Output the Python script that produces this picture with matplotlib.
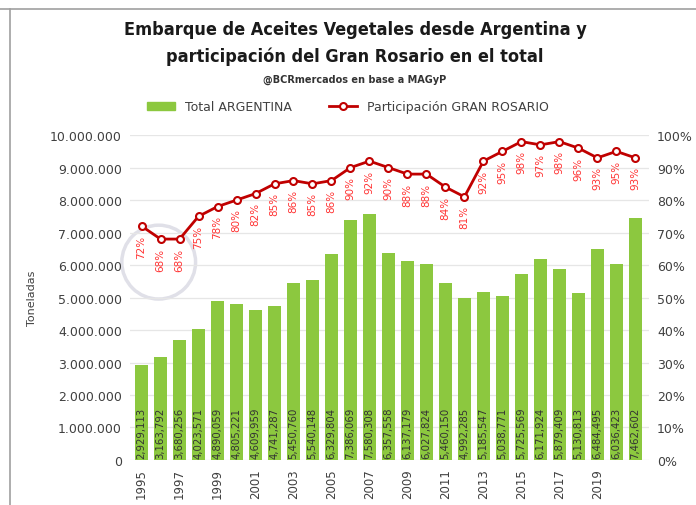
import matplotlib
matplotlib.use("Agg")
import matplotlib.pyplot as plt
from matplotlib.lines import Line2D
from matplotlib.patches import Patch, Ellipse
import numpy as np

years = [str(y) for y in range(1995, 2022)]
total_arg = [2929113, 3163792, 3680256, 4023571, 4890059, 4805221, 4609959,
             4741287, 5450760, 5540148, 6329804, 7386069, 7580308, 6357558,
             6137179, 6027824, 5460150, 4992285, 5185547, 5038771, 5725569,
             6171924, 5879409, 5130813, 6484495, 6036423, 7462602]
part_gr = [72, 68, 68, 75, 78, 80, 82, 85, 86, 85, 86, 90, 92, 90, 88, 88,
           84, 81, 92, 95, 98, 97, 98, 96, 93, 95, 93]

green = "#8CC83F"
dark_red = "#C00000"
lbl_red = "#FF3333"

fig = plt.figure(figsize=(6.96, 5.06), dpi=100)
ax = fig.add_axes([0.187, 0.089, 0.745, 0.642])
ax2 = ax.twinx()
ax.patch.set_visible(False)
ax2.patch.set_visible(False)

x = np.arange(len(years))
ax.bar(x, total_arg, width=0.68, color=green, zorder=2)
for xi, v in zip(x, total_arg):
    ax.text(xi, 70000, f"{v:,}", rotation=90, ha="center", va="bottom",
            fontsize=7.3, color="#333333", zorder=3)

ax.set_ylim(0, 10000000)
ax.set_yticks(range(0, 10000001, 1000000))
ax.set_yticklabels([f"{v:,}".replace(",", ".") for v in range(0, 10000001, 1000000)],
                   fontsize=9, color="#404040")
ax.set_xlim(-0.6, 26.7)
ax.set_xticks(x)
ax.set_xticklabels([y if i % 2 == 0 and i < 26 else "" for i, y in enumerate(years)],
                   rotation=90, fontsize=8.5, color="#404040")
ax.grid(axis="y", color="#E6E6E6", lw=0.9, zorder=0)
ax.set_axisbelow(True)
ax.tick_params(length=0, pad=6)
for s in ax.spines.values():
    s.set_visible(False)
ax.set_ylabel("Toneladas", fontsize=8, color="#404040")
ax.yaxis.set_label_coords(-0.18, 0.5)

pv = [p / 100 for p in part_gr]
ax2.plot(x, pv, color=dark_red, lw=2, marker="o", ms=5, mfc="white",
         mec=dark_red, mew=1.5, zorder=4)
for xi, p, v in zip(x, part_gr, pv):
    ax2.annotate(f"{p}%", (xi, v), xytext=(0, -6), textcoords="offset points",
                 rotation=90, ha="center", va="top", fontsize=7.5, color=lbl_red)
ax2.set_ylim(0, 1)
ax2.set_yticks(np.linspace(0, 1, 11))
ax2.set_yticklabels([f"{int(round(t * 100))}%" for t in np.linspace(0, 1, 11)],
                    fontsize=9, color="#404040")
ax2.tick_params(length=0, pad=6)
for s in ax2.spines.values():
    s.set_visible(False)

# faint logo watermark
fig.add_artist(Ellipse((0.228, 0.48), 0.106, 0.146, transform=fig.transFigure,
                       fill=False, ec="#E0E0E8", lw=2.5, zorder=-1))

fig.text(0.51, 0.94, "Embarque de Aceites Vegetales desde Argentina y",
         ha="center", va="center", fontsize=13, fontweight="heavy", color="#1a1a1a",
         fontstretch="condensed")
fig.text(0.51, 0.887, "participación del Gran Rosario en el total",
         ha="center", va="center", fontsize=13, fontweight="heavy", color="#1a1a1a",
         fontstretch="condensed")
fig.text(0.51, 0.842, "@BCRmercados en base a MAGyP", ha="center", va="center",
         fontsize=7, fontweight="bold", color="#333333")

handles = [Patch(color=green),
           Line2D([], [], color=dark_red, lw=2, marker="o", ms=5, mfc="white",
                  mec=dark_red, mew=1.5)]
fig.legend(handles, ["Total ARGENTINA", "Participación GRAN ROSARIO"],
           loc="center", bbox_to_anchor=(0.5, 0.787), ncol=2, frameon=False,
           fontsize=9, handlelength=2.2, columnspacing=3, labelcolor="#404040")

fig.add_artist(Line2D([0, 1], [0.981, 0.981], transform=fig.transFigure,
                      color="#A0A0A0", lw=1.2))
fig.add_artist(Line2D([0.014, 0.014], [0, 0.981], transform=fig.transFigure,
                      color="#A0A0A0", lw=1.2))

fig.savefig("out.png", dpi=100)
